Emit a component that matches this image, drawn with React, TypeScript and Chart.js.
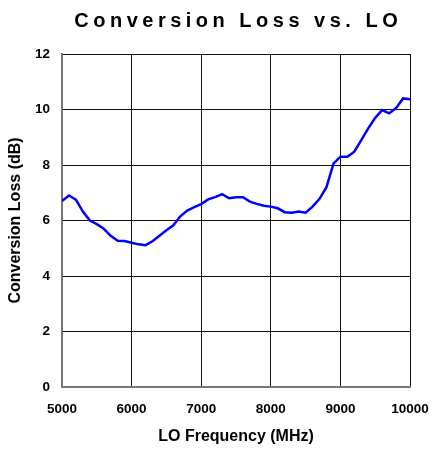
import React, { useEffect, useRef } from "react";
import { Chart, registerables } from "chart.js";

Chart.register(...registerables);

const TITLE = "Conversion Loss vs. LO";
const X_TITLE = "LO Frequency (MHz)";
const Y_TITLE = "Conversion Loss (dB)";

const freqMHz = [
  5000, 5100, 5200, 5300, 5400, 5500, 5600, 5700, 5800, 5900,
  6000, 6100, 6200, 6300, 6400, 6500, 6600, 6700, 6800, 6900,
  7000, 7100, 7200, 7300, 7400, 7500, 7600, 7700, 7800, 7900,
  8000, 8100, 8200, 8300, 8400, 8500, 8600, 8700, 8800, 8900,
  9000, 9100, 9200, 9300, 9400, 9500, 9600, 9700, 9800, 9900, 10000,
];
const lossDb = [
  6.7, 6.9, 6.75, 6.32, 6.0, 5.87, 5.7, 5.45, 5.27, 5.26,
  5.2, 5.14, 5.11, 5.25, 5.45, 5.65, 5.83, 6.15, 6.36, 6.48,
  6.59, 6.76, 6.84, 6.95, 6.8, 6.84, 6.84, 6.68, 6.6, 6.53,
  6.5, 6.44, 6.3, 6.28, 6.32, 6.28, 6.5, 6.78, 7.2, 8.05,
  8.3, 8.3, 8.48, 8.9, 9.32, 9.7, 9.98, 9.86, 10.05, 10.4, 10.37,
];

const FONT = "'Liberation Sans', Arial, Helvetica, sans-serif";
const TITLE_SPACING = 4.5;

const titlePlugin = {
  id: "customTitle",
  afterDraw(chart: any) {
    const { ctx, chartArea } = chart;
    ctx.save();
    ctx.font = `bold 20px ${FONT}`;
    ctx.fillStyle = "#000";
    (ctx as any).letterSpacing = `${TITLE_SPACING}px`;
    ctx.textAlign = "left";
    ctx.textBaseline = "alphabetic";
    const w = ctx.measureText(TITLE).width - TITLE_SPACING;
    const cx = (chartArea.left + chartArea.right) / 2;
    ctx.fillText(TITLE, cx - w / 2, 27);
    ctx.restore();
  },
};

export default function App() {
  const ref = useRef<HTMLCanvasElement | null>(null);
  useEffect(() => {
    if (!ref.current) return;
    const chart = new Chart(ref.current, {
      type: "scatter",
      data: {
        datasets: [
          {
            data: freqMHz.map((f, i) => ({ x: f, y: lossDb[i] })),
            showLine: true,
            borderColor: "#0000ff",
            borderWidth: 2.5,
            pointRadius: 0,
            tension: 0,
          },
        ],
      },
      options: {
        animation: false,
        responsive: false,
        maintainAspectRatio: false,
        layout: { padding: { top: 54, right: 21, left: 0, bottom: 0 } },
        plugins: { legend: { display: false }, tooltip: { enabled: false }, title: { display: false } },
        scales: {
          x: {
            type: "linear",
            min: 5000,
            max: 10000,
            afterFit: (s: any) => {
              s.height = 62;
              s.paddingLeft = 0;
              s.paddingRight = 0;
            },
            ticks: {
              stepSize: 1000,
              padding: 14,
              color: "#000",
              font: { family: FONT, size: 13.5, weight: "bold" },
              callback: (v: any) => String(v),
            },
            grid: { color: "#111", lineWidth: 1, drawTicks: false },
            border: { color: "#777", width: 2 },
            title: {
              display: true,
              text: X_TITLE,
              color: "#000",
              font: { family: FONT, size: 16, weight: "bold" },
              padding: { top: 0, bottom: 3 },
            },
          },
          y: {
            min: 0,
            max: 12,
            afterFit: (s: any) => {
              s.width = 62;
              s.paddingTop = 0;
              s.paddingBottom = 0;
            },
            ticks: {
              stepSize: 2,
              padding: 12,
              color: "#000",
              font: { family: FONT, size: 13.5, weight: "bold" },
            },
            grid: { color: "#111", lineWidth: 1, drawTicks: false },
            border: { color: "#777", width: 2 },
            title: {
              display: true,
              text: Y_TITLE,
              color: "#000",
              font: { family: FONT, size: 16, weight: "bold" },
              padding: { top: 6, bottom: 0 },
            },
          },
        },
      },
      plugins: [titlePlugin],
    });
    return () => chart.destroy();
  }, []);
  return (
    <div style={{ position: "fixed", left: 0, top: 0, width: 431, height: 449 }}>
      <canvas ref={ref} width={431} height={449} style={{ display: "block", width: 431, height: 449 }} />
    </div>
  );
}
